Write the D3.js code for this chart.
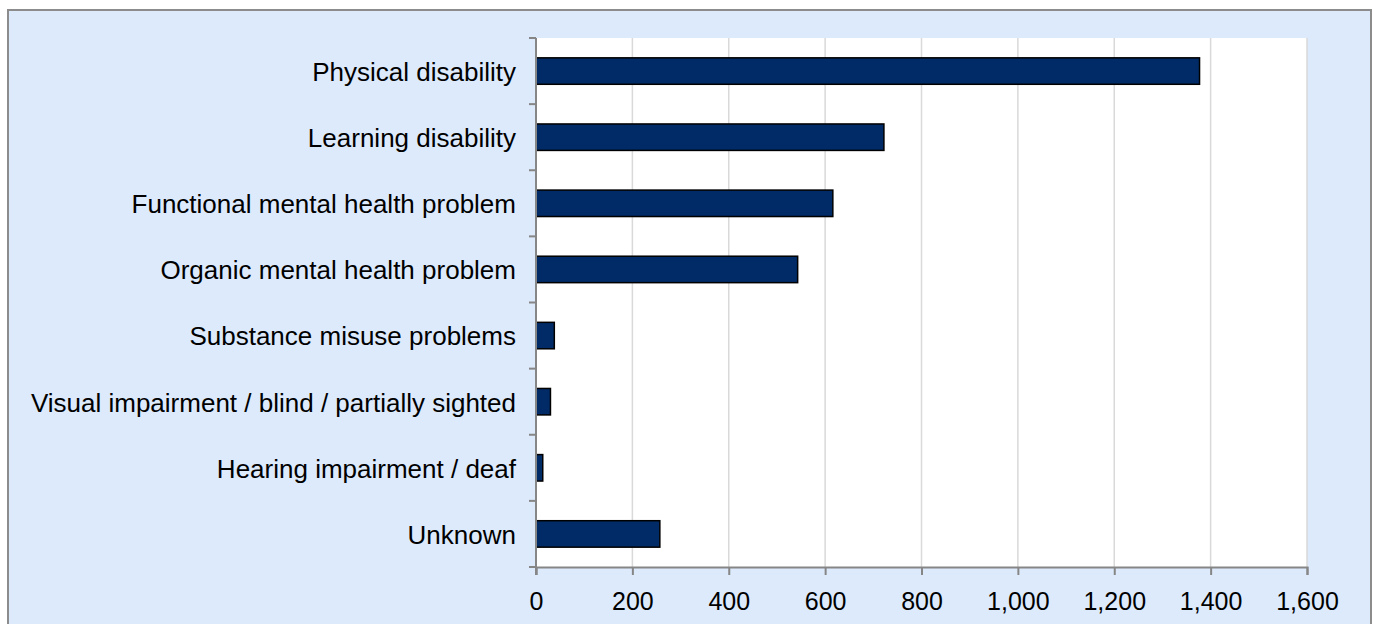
<!DOCTYPE html>
<html lang="en">
  <head>
    <meta charset="UTF-8" />
    <title>disability-bars</title>
    <style>
      body {
        margin: 0;
        background: #ffffff;
        font-family: "Liberation Sans", Arial, sans-serif;
      }
      svg {
        display: block;
      }
      .cat-label {
        text-anchor: end;
        font-size: 26px;
        fill: #000;
      }
      .x-axis text {
        font-size: 25px;
        fill: #000;
        font-family: "Liberation Sans", Arial, sans-serif;
      }
    </style>
  </head>
  <body>
    <script src="https://cdn.jsdelivr.net/npm/d3@7"></script>
    <script>
      const categories = [
        "Physical disability",
        "Learning disability",
        "Functional mental health problem",
        "Organic mental health problem",
        "Substance misuse problems",
        "Visual impairment / blind / partially sighted",
        "Hearing impairment / deaf",
        "Unknown"
      ];
      const values = [1377, 722, 616, 543, 38, 30, 14, 257];
      const xTicks = [0, 200, 400, 600, 800, 1000, 1200, 1400, 1600];

      const width = 1373;
      const height = 624;
      // plot area inside the light blue frame
      const plotLeft = 536;
      const plotRight = 1307;
      const plotTop = 38;
      const plotBottom = 567;

      const svg = d3
        .select("body")
        .append("svg")
        .attr("width", width)
        .attr("height", height);

      // outer frame
      svg
        .append("rect")
        .attr("x", 8)
        .attr("y", 10)
        .attr("width", 1363)
        .attr("height", 630)
        .attr("fill", "#dceafc")
        .attr("stroke", "#8c8c8c")
        .attr("stroke-width", 2);

      const x = d3.scaleLinear().domain([0, 1600]).range([plotLeft, plotRight]);
      const y = d3
        .scaleBand()
        .domain(categories)
        .range([plotTop, plotBottom])
        .paddingInner(0.6)
        .paddingOuter(0.3);

      // white plot background
      svg
        .append("rect")
        .attr("x", plotLeft)
        .attr("y", plotTop)
        .attr("width", plotRight - plotLeft)
        .attr("height", plotBottom - plotTop)
        .attr("fill", "#ffffff");

      // vertical gridlines
      svg
        .append("g")
        .selectAll("line")
        .data(xTicks.slice(1))
        .enter()
        .append("line")
        .attr("x1", d => x(d))
        .attr("x2", d => x(d))
        .attr("y1", plotTop)
        .attr("y2", plotBottom)
        .attr("stroke", "#d9d9d9")
        .attr("stroke-width", 1.5);

      // bars
      svg
        .append("g")
        .selectAll("rect")
        .data(values)
        .enter()
        .append("rect")
        .attr("x", x(0))
        .attr("y", (d, i) => y(categories[i]))
        .attr("width", d => x(d) - x(0))
        .attr("height", y.bandwidth())
        .attr("fill", "#002b66")
        .attr("stroke", "#000")
        .attr("stroke-width", 1.5);

      // x axis
      const xAxis = svg
        .append("g")
        .attr("class", "x-axis")
        .attr("transform", `translate(0,${plotBottom})`)
        .call(
          d3
            .axisBottom(x)
            .tickValues(xTicks)
            .tickSize(8)
            .tickPadding(17)
            .tickFormat(d3.format(","))
        );
      xAxis.select(".domain").attr("stroke", "#868686").attr("stroke-width", 2);
      xAxis.selectAll(".tick line").attr("stroke", "#868686").attr("stroke-width", 2);

      // y axis: line with ticks at the band boundaries
      const bandEdges = d3.range(categories.length + 1).map(i => plotTop + (i * (plotBottom - plotTop)) / categories.length);
      const yAxis = svg.append("g");
      yAxis
        .append("line")
        .attr("x1", plotLeft)
        .attr("x2", plotLeft)
        .attr("y1", plotTop)
        .attr("y2", plotBottom + 8)
        .attr("stroke", "#868686")
        .attr("stroke-width", 2);
      yAxis
        .selectAll(".ytick")
        .data(bandEdges)
        .enter()
        .append("line")
        .attr("x1", plotLeft - 7)
        .attr("x2", plotLeft)
        .attr("y1", d => d)
        .attr("y2", d => d)
        .attr("stroke", "#868686")
        .attr("stroke-width", 2);

      // category labels
      svg
        .append("g")
        .selectAll("text")
        .data(categories)
        .enter()
        .append("text")
        .attr("class", "cat-label")
        .attr("x", plotLeft - 20)
        .attr("y", d => y(d) + y.bandwidth() / 2)
        .attr("dy", "0.38em")
        .text(d => d);
    </script>
  </body>
</html>
